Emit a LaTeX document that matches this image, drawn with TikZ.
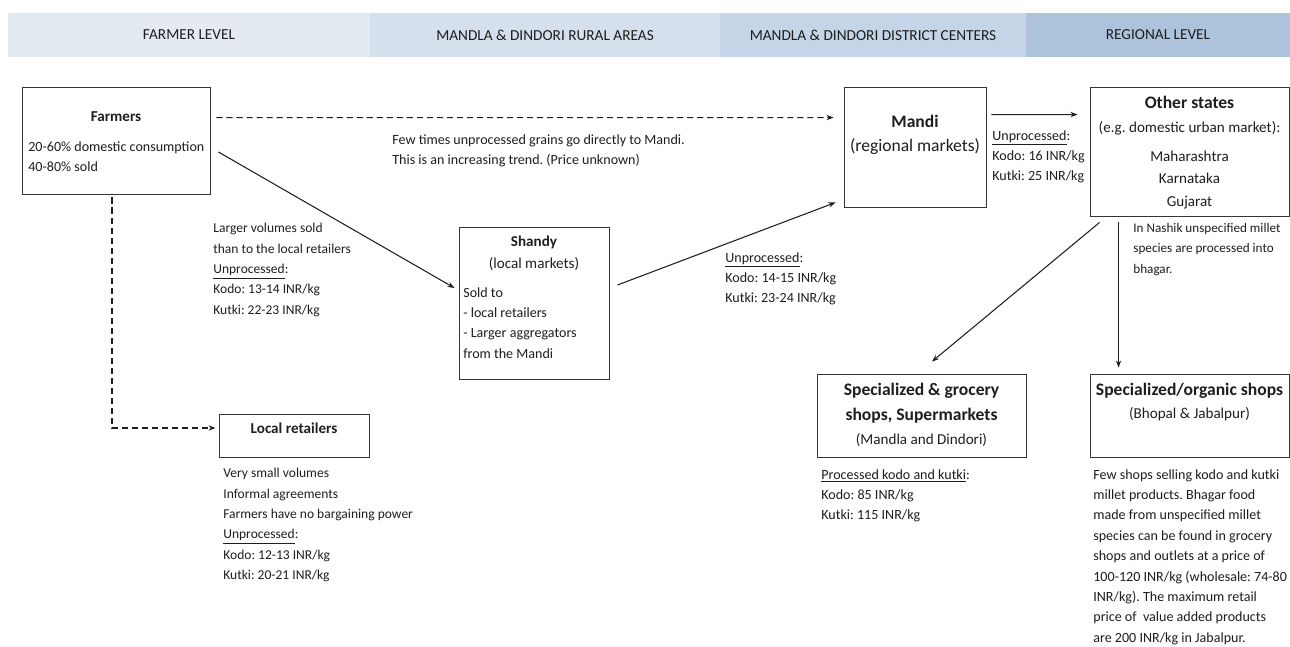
\documentclass[tikz,border=0pt]{standalone}
\usepackage{fontspec}
\setmainfont{Carlito}
\usepackage{xcolor}
\usetikzlibrary{calc,arrows.meta}
\definecolor{hdA}{RGB}{228,234,242}
\definecolor{hdB}{RGB}{214,224,236}
\definecolor{hdC}{RGB}{197,212,230}
\definecolor{hdD}{RGB}{173,195,220}
\definecolor{ink}{RGB}{30,30,30}
\frenchspacing

\begin{document}
\begin{tikzpicture}[x=0.02cm,y=-0.02cm,
    box/.style={draw=ink!90,line width=0.55pt,rectangle,inner sep=0pt},
    hdr/.style={font=\fontsize{8.7}{10}\selectfont,text=ink},
    ttl/.style={font=\fontsize{8.6}{10}\selectfont\bfseries,text=ink},
    bigttl/.style={font=\fontsize{10}{12}\selectfont\bfseries,text=ink},
    sub/.style={font=\fontsize{8.6}{10}\selectfont,text=ink},
    txt/.style={font=\fontsize{8}{11.6}\selectfont,align=left,anchor=north west,inner sep=0pt,text=ink},
    flow/.style={draw=ink,line width=0.6pt,-{Stealth[length=4pt,width=3pt]}},
    dflow/.style={flow,dash pattern=on 3.5pt off 2.2pt}]
    \useasboundingbox (0,0) rectangle (1290,646);

    % level bands
    \foreach \xa/\xb/\hc/\lvl [count=\i] in {8/370/hdA/FARMER LEVEL,
        370/720/hdB/MANDLA \& DINDORI RURAL AREAS,
        720/1026/hdC/MANDLA \& DINDORI DISTRICT CENTERS,
        1026/1290/hdD/REGIONAL LEVEL}{
        \fill[\hc] (\xa,13) rectangle (\xb,57);
        \node[hdr] (h\i) at ({(\xa+\xb)/2},35) {\lvl};
    }

    % boxes
    \node[box,minimum width=3.76cm,minimum height=2.14cm] (farmers) at (116,140.5) {};
    \node[box,minimum width=3cm,minimum height=3.04cm] (shandy) at (534,303) {};
    \node[box,minimum width=3cm,minimum height=0.86cm] (localret) at (294,435.5) {};
    \node[box,minimum width=2.84cm,minimum height=2.4cm] (mandi) at (915,147) {};
    \node[box,minimum width=3.98cm,minimum height=2.58cm] (otherst) at (1189.5,151.5) {};
    \node[box,minimum width=4.18cm,minimum height=1.66cm] (grocery) at (921.5,415.5) {};
    \node[box,minimum width=3.98cm,minimum height=1.66cm] (organic) at (1189.5,415.5) {};

    % box contents
    \node[ttl] (farmersT) at (116,117) {Farmers};
    \node[txt] (farmersB) at (28,141) {20-60\% domestic consumption\\40-80\% sold};
    \node[ttl] (shandyT) at (534,242) {Shandy};
    \node[sub] (shandyS) at (534,264) {(local markets)};
    \node[txt] (shandyB) at (463,287) {Sold to\\- local retailers\\- Larger aggregators\\from the Mandi};
    \node[ttl] (localretT) at (294,428) {Local retailers};
    \node[bigttl] (mandiT) at (915,121) {Mandi};
    \node[font=\fontsize{10}{12}\selectfont,text=ink] (mandiS) at (915,147) {(regional markets)};
    \node[bigttl] (otherstT) at (1189.5,102) {Other states};
    \node[sub] (otherstS) at (1189.5,128) {(e.g. domestic urban market):};
    \node[sub,align=center,anchor=north,inner sep=0pt,
        font=\fontsize{8.6}{12.6}\selectfont] (otherstB) at (1189.5,151) {Maharashtra\\Karnataka\\Gujarat};
    \node[bigttl,align=center,font=\fontsize{10}{14.2}\selectfont\bfseries] (groceryT) at (921.5,403.5) {Specialized \& grocery\\shops, Supermarkets};
    \node[sub] (groceryS) at (921.5,440) {(Mandla and Dindori)};
    \node[bigttl] (organicT) at (1189.5,391) {Specialized/organic shops};
    \node[sub] (organicS) at (1189.5,414) {(Bhopal \& Jabalpur)};

    % free notes
    \node[txt] (fewtimes) at (392,134) {Few times unprocessed grains go directly to Mandi.\\This is an increasing trend. (Price unknown)};
    \node[txt,font=\fontsize{7.7}{11.6}\selectfont] (largervol) at (213,223) {Larger volumes sold\\than to the local retailers\\\underline{Unprocessed}:\\Kodo: 13-14 INR/kg\\Kutki: 22-23 INR/kg};
    \node[txt] (shandyP) at (725,252) {\underline{Unprocessed}:\\Kodo: 14-15 INR/kg\\Kutki: 23-24 INR/kg};
    \node[txt] (mandiP) at (992,130) {\underline{Unprocessed}:\\Kodo: 16 INR/kg\\Kutki: 25 INR/kg};
    \node[txt,font=\fontsize{7.5}{11.6}\selectfont] (nashik) at (1133,223) {In Nashik unspecified millet\\species are processed into\\bhagar.};
    \node[txt,font=\fontsize{7.7}{11.6}\selectfont] (localretB) at (223,468) {Very small volumes\\Informal agreements\\Farmers have no bargaining power\\\underline{Unprocessed}:\\Kodo: 12-13 INR/kg\\Kutki: 20-21 INR/kg};
    \node[txt] (groceryB) at (821,469) {\underline{Processed kodo and kutki}:\\Kodo: 85 INR/kg\\Kutki: 115 INR/kg};
    \node[txt] (organicB) at (1093,469) {Few shops selling kodo and kutki\\millet products. Bhagar food\\made from unspecified millet\\species can be found in grocery\\shops and outlets at a price of\\100-120 INR/kg (wholesale: 74-80\\INR/kg). The maximum retail\\price of~ value added products\\are 200 INR/kg in Jabalpur.};

    % flows
    \draw[dflow] ($(farmers.north east)+(6,31)$) -- ($(mandi.north west)+(-10,31)$);
    \draw[flow] ($(farmers.east)+(8,11.5)$) -- ($(shandy.west)+(-4,-15)$);
    \draw[dflow] ($(farmers.south)+(-4,3)$) |- ($(localret.west)+(-3,-7.5)$);
    \draw[flow] ($(shandy.east)+(8,-18)$) -- ($(mandi.south west)+(-8,-5)$);
    \draw[flow] ($(mandi.north east)+(5,28)$) -- ($(otherst.north west)+(-12,28)$);
    \draw[flow] ($(otherst.south west)+(10,6)$) -- ($(grocery.north)+(10.5,-12)$);
    \draw[flow] ($(otherst.south west)+(29,6)$) -- ($(organic.north west)+(29,-6)$);
\end{tikzpicture}
\end{document}
